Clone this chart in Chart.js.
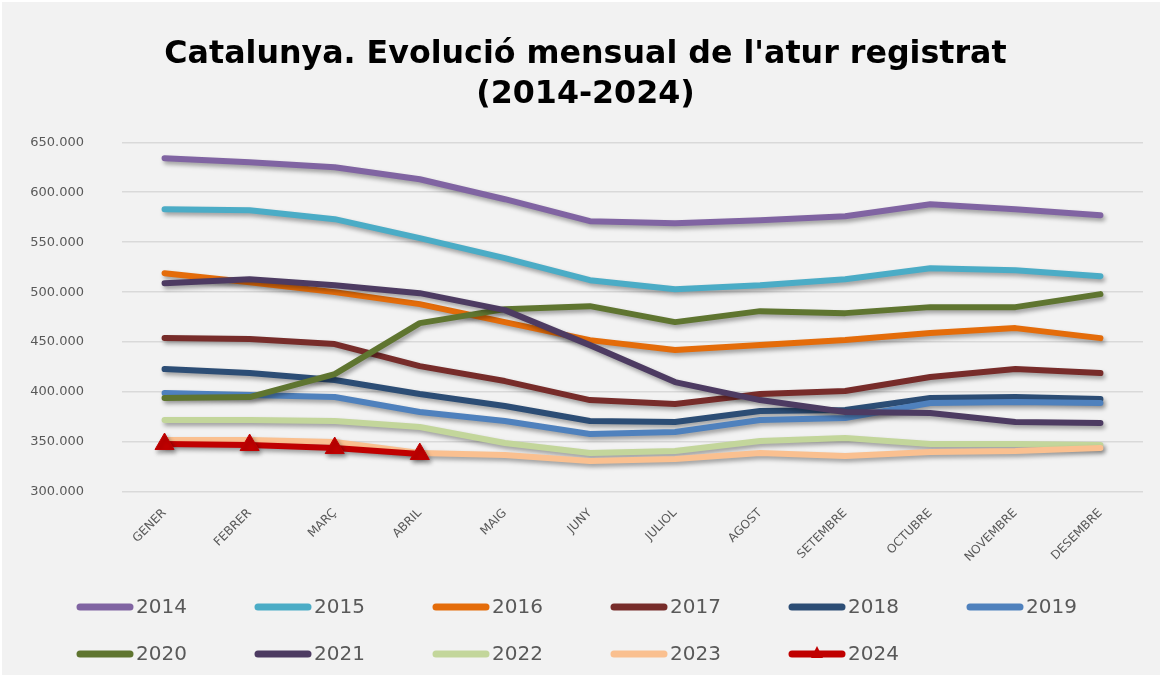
<!DOCTYPE html>
<html>
<head>
<meta charset="utf-8">
<script src="https://cdn.jsdelivr.net/npm/chart.js@4.4.1/dist/chart.umd.min.js"></script>
<style>
    body { margin: 0; background: #ffffff; }
    canvas { display: block; }
</style>
</head>
<body>
<canvas id="aturChart" width="1162" height="677"></canvas>
<script>
const months = ['GENER', 'FEBRER', 'MARÇ', 'ABRIL', 'MAIG', 'JUNY', 'JULIOL', 'AGOST', 'SETEMBRE', 'OCTUBRE', 'NOVEMBRE', 'DESEMBRE'];
const years = ['2014', '2015', '2016', '2017', '2018', '2019', '2020', '2021', '2022', '2023', '2024'];

const atur2014 = [634000, 630000, 625000, 613000, 593000, 571000, 569000, 572000, 576000, 588000, 583000, 577000];
const atur2015 = [583000, 582000, 573000, 554000, 534000, 512000, 503000, 507000, 513000, 524000, 522000, 516000];
const atur2016 = [519000, 510000, 500000, 488000, 470000, 452000, 442000, 447000, 452000, 459000, 464000, 454000];
const atur2017 = [454000, 453000, 448000, 426000, 411000, 392000, 388000, 398000, 401000, 415000, 423000, 419000];
const atur2018 = [423000, 419000, 412000, 398000, 386000, 371000, 370000, 381000, 382000, 394000, 395000, 393000];
const atur2019 = [399000, 397000, 395000, 380000, 371000, 358000, 360000, 372000, 374000, 389000, 390000, 389000];
const atur2020 = [394000, 395000, 418000, 469000, 483000, 486000, 470000, 481000, 479000, 485000, 485000, 498000];
const atur2021 = [509000, 513000, 507000, 499000, 482000, 447000, 410000, 392000, 380000, 379000, 370000, 369000];
const atur2022 = [372000, 372000, 371000, 365000, 349000, 339000, 341000, 351000, 354000, 348000, 348000, 347000];
const atur2023 = [352000, 352000, 350000, 339000, 337000, 331000, 333000, 339000, 336000, 340000, 341000, 344000];
const atur2024 = [348000, 347000, 344000, 338000];

const seriesValues = [atur2014, atur2015, atur2016, atur2017, atur2018, atur2019, atur2020, atur2021, atur2022, atur2023, atur2024];
const seriesColors = ['#8064A2', '#4BACC6', '#E46C0A', '#772C2A', '#2C4D75', '#4F81BD', '#5F7530', '#4D3B62', '#C3D69B', '#FAC090', '#C00000'];

// y axis: 300.000 - 650.000
const yMin = 300000;
const yMax = 650000;
const yStep = 50000;

const textGrey = '#595959';

function formatThousands(v) {
    return String(v).replace(/\B(?=(\d{3})+(?!\d))/g, '.');
}

const datasets = seriesValues.map((values, i) => {
    const isLast = i === seriesValues.length - 1;
    return {
        label: years[i],
        data: values,
        borderColor: seriesColors[i],
        backgroundColor: seriesColors[i],
        borderWidth: 6,
        borderCapStyle: 'round',
        borderJoinStyle: 'round',
        tension: 0,
        fill: false,
        pointRadius: isLast ? 11 : 0,
        pointHoverRadius: isLast ? 11 : 0,
        pointStyle: 'triangle',
        pointBorderWidth: 1,
        order: seriesValues.length - i
    };
});

// grey background of the chart
const backgroundPlugin = {
    id: 'background',
    beforeDraw(chart) {
        const ctx = chart.ctx;
        ctx.save();
        ctx.fillStyle = '#f2f2f2';
        ctx.fillRect(2, 2, chart.width - 4, chart.height - 4);
        ctx.restore();
    }
};

// soft drop shadow under every line, like the office chart
const shadowPlugin = {
    id: 'lineShadow',
    beforeDatasetDraw(chart) {
        const ctx = chart.ctx;
        ctx.save();
        ctx.shadowColor = 'rgba(0, 0, 0, 0.35)';
        ctx.shadowBlur = 4;
        ctx.shadowOffsetX = 2;
        ctx.shadowOffsetY = 3;
    },
    afterDatasetDraw(chart) {
        chart.ctx.restore();
    }
};

// legend in two rows of six, left aligned
const legendPlugin = {
    id: 'gridLegend',
    afterDraw(chart) {
        const ctx = chart.ctx;
        ctx.save();
        ctx.font = '20px "DejaVu Sans"';
        ctx.textBaseline = 'middle';
        chart.data.datasets.forEach((ds, i) => {
            const col = i % 6;
            const row = Math.floor(i / 6);
            const x = 80 + col * 178;
            const y = 607 + row * 47;
            ctx.strokeStyle = ds.borderColor;
            ctx.lineWidth = 7;
            ctx.lineCap = 'round';
            ctx.beginPath();
            ctx.moveTo(x, y);
            ctx.lineTo(x + 50, y);
            ctx.stroke();
            if (ds.pointRadius > 0) {
                ctx.fillStyle = ds.borderColor;
                ctx.beginPath();
                ctx.moveTo(x + 25, y - 8);
                ctx.lineTo(x + 31, y + 4);
                ctx.lineTo(x + 19, y + 4);
                ctx.closePath();
                ctx.fill();
            }
            ctx.fillStyle = textGrey;
            ctx.fillText(ds.label, x + 56, y + 1);
        });
        ctx.restore();
    }
};

const ctx = document.getElementById('aturChart').getContext('2d');

const chart = new Chart(ctx, {
    type: 'line',
    data: {
        labels: months,
        datasets: datasets
    },
    plugins: [backgroundPlugin, shadowPlugin, legendPlugin],
    options: {
        responsive: false,
        animation: false,
        layout: {
            padding: { left: 28, right: 19, top: 0, bottom: 0 }
        },
        plugins: {
            legend: { display: false },
            tooltip: { enabled: false },
            title: {
                display: true,
                text: ["Catalunya. Evolució mensual de l'atur registrat", '(2014-2024)'],
                color: '#000000',
                font: { family: 'DejaVu Sans', size: 31.7, weight: 'bold', lineHeight: 1.25 },
                padding: { top: 35, bottom: 28 }
            }
        },
        scales: {
            x: {
                offset: true,
                grid: { display: false },
                border: { display: false },
                ticks: {
                    color: textGrey,
                    font: { family: 'DejaVu Sans', size: 12 },
                    minRotation: 45,
                    maxRotation: 45,
                    padding: 6,
                    autoSkip: false
                },
                afterFit(scale) {
                    scale.height = 185;
                }
            },
            y: {
                min: yMin,
                max: yMax,
                border: { display: false },
                grid: {
                    color: '#d9d9d9',
                    lineWidth: 1.5,
                    drawTicks: false
                },
                ticks: {
                    stepSize: yStep,
                    color: textGrey,
                    font: { family: 'DejaVu Sans', size: 13 },
                    padding: 38,
                    callback: (value) => formatThousands(value)
                },
                afterFit(scale) {
                    scale.width = 94;
                }
            }
        }
    }
});
</script>
</body>
</html>
